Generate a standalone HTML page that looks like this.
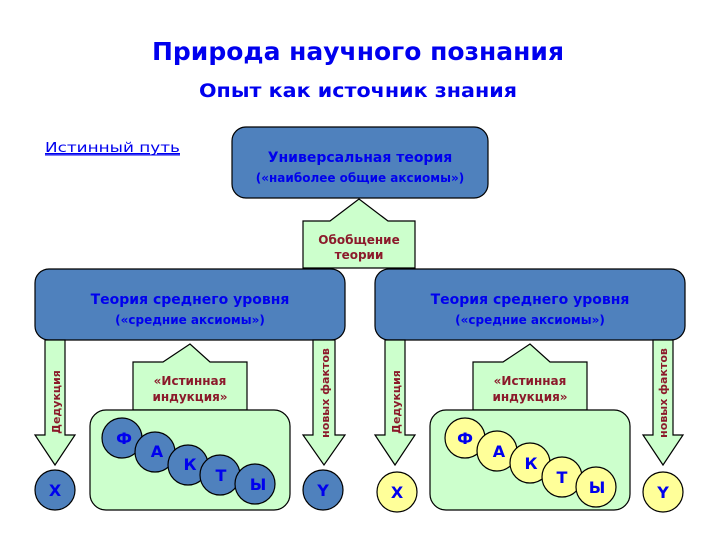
<!DOCTYPE html>
<html><head><meta charset="utf-8"><style>html,body{margin:0;padding:0;background:#fff}svg{display:block}</style></head>
<body>
<svg width="720" height="540" xmlns="http://www.w3.org/2000/svg" font-family="'DejaVu Sans','Liberation Sans',sans-serif" font-weight="bold">
<rect width="720" height="540" fill="#fff"/>
<text x="358" y="60" text-anchor="middle" font-size="25" fill="#0000ee" textLength="412" lengthAdjust="spacingAndGlyphs">Природа научного познания</text>
<text x="358" y="97" text-anchor="middle" font-size="19" fill="#0000ee" textLength="318" lengthAdjust="spacingAndGlyphs">Опыт как источник знания</text>
<text x="45" y="152" font-size="13" fill="#0000ee" font-weight="normal" textLength="135" lengthAdjust="spacingAndGlyphs" text-decoration="underline">Истинный путь</text>
<line x1="45" y1="155" x2="180" y2="155" stroke="#0000ee" stroke-width="1"/>

<g stroke="#000" stroke-width="1.2">
<!-- top box -->
<rect x="232" y="127" width="256" height="71" rx="14" fill="#4f81bd"/>
<!-- generalization arrow -->
<polygon points="303,268 303,221 330,221 359,199 388,221 415,221 415,268" fill="#ccffcc"/>
<!-- middle boxes -->
<rect x="35" y="269" width="310" height="71" rx="14" fill="#4f81bd"/>
<rect x="375" y="269" width="310" height="71" rx="14" fill="#4f81bd"/>

<!-- left panel arrows -->
<polygon points="45,340 65,340 65,435 75,435 55,465 35,435 45,435" fill="#ccffcc"/>
<polygon points="313,340 335,340 335,435 345,435 324,465 303,435 313,435" fill="#ccffcc"/>
<polygon points="133,410 133,362 163,362 190,344 210,362 247,362 247,410" fill="#ccffcc"/>
<rect x="90" y="410" width="200" height="100" rx="16" fill="#ccffcc"/>
<!-- right panel arrows -->
<polygon points="385,340 405,340 405,435 415,435 395,465 375,435 385,435" fill="#ccffcc"/>
<polygon points="653,340 673,340 673,435 683,435 663,465 643,435 653,435" fill="#ccffcc"/>
<polygon points="473,410 473,362 503,362 530,344 550,362 587,362 587,410" fill="#ccffcc"/>
<rect x="430" y="410" width="200" height="100" rx="16" fill="#ccffcc"/>

<!-- left circles -->
<g fill="#4f81bd">
<circle cx="55" cy="490" r="20"/><circle cx="323" cy="490" r="20"/>
<circle cx="122" cy="438" r="20"/><circle cx="155" cy="452" r="20"/><circle cx="188" cy="465" r="20"/><circle cx="220" cy="475" r="20"/><circle cx="255" cy="484" r="20"/>
</g>
<g fill="#ffff99">
<circle cx="397" cy="492" r="20"/><circle cx="663" cy="492" r="20"/>
<circle cx="465" cy="438" r="20"/><circle cx="497" cy="451" r="20"/><circle cx="530" cy="463" r="20"/><circle cx="562" cy="477" r="20"/><circle cx="596" cy="487" r="20"/>
</g>
</g>

<g fill="#0000ee" text-anchor="middle">
<text x="360" y="162" font-size="14">Универсальная теория</text>
<text x="360" y="182" font-size="12">(«наиболее общие аксиомы»)</text>
<text x="190" y="304" font-size="14">Теория среднего уровня</text>
<text x="190" y="324" font-size="12">(«средние аксиомы»)</text>
<text x="530" y="304" font-size="14">Теория среднего уровня</text>
<text x="530" y="324" font-size="12">(«средние аксиомы»)</text>
<g font-size="16">
<text x="55" y="496">X</text><text x="323" y="496">Y</text>
<text x="124" y="444">Ф</text><text x="157" y="457">А</text><text x="190" y="470">К</text><text x="221" y="481">Т</text><text x="258" y="490">Ы</text>
<text x="397" y="498">X</text><text x="663" y="498">Y</text>
<text x="465" y="444">Ф</text><text x="499" y="457">А</text><text x="531" y="469">К</text><text x="562" y="483">Т</text><text x="597" y="493">Ы</text>
</g>
</g>

<g fill="#8b1a2b" text-anchor="middle" font-size="12">
<text x="359" y="244">Обобщение</text>
<text x="359" y="259">теории</text>
<text x="190" y="385">«Истинная</text>
<text x="190" y="401">индукция»</text>
<text x="530" y="385">«Истинная</text>
<text x="530" y="401">индукция»</text>
<text transform="translate(60,402) rotate(-90)" font-size="11">Дедукция</text>
<text transform="translate(400,402) rotate(-90)" font-size="11">Дедукция</text>
<text transform="translate(329,393) rotate(-90)" font-size="11">новых фактов</text>
<text transform="translate(667,393) rotate(-90)" font-size="11">новых фактов</text>
</g>
</svg>
</body></html>
